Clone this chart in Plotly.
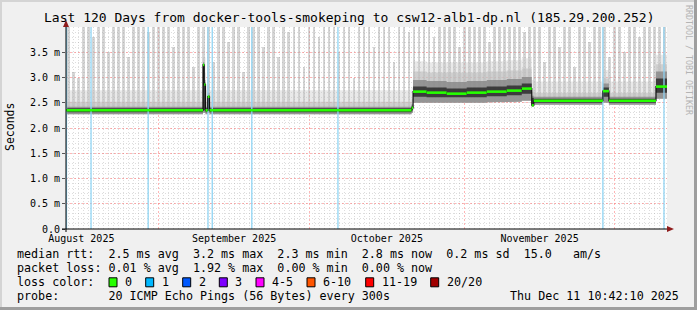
import plotly.graph_objects as go
from datetime import datetime, timedelta

# ---------------- data (values in milliseconds) ----------------
START = datetime(2025, 8, 13, 10, 42, 10)
END = datetime(2025, 12, 11, 10, 42, 10)
Y_MAX = 4.0

# intervals (day offsets from START) with median rtt and smoke percentiles
seg_start = [0, 27.35, 27.6, 27.85, 28.3, 28.65, 69.0, 69.3, 72, 76, 80, 84, 88, 91, 93.0, 93.4, 107.2, 108.4, 117.8]
seg_end = seg_start[1:] + [120]
median   = [2.35, 3.25, 2.86, 2.35, 2.62, 2.35, 2.40, 2.72, 2.70, 2.68, 2.70, 2.72, 2.74, 2.78, 2.45, 2.54, 2.73, 2.54, 2.82]
smoke_lo = [2.27, 2.30, 2.30, 2.27, 2.30, 2.27, 2.30, 2.50, 2.50, 2.49, 2.50, 2.51, 2.52, 2.54, 2.42, 2.46, 2.50, 2.46, 2.58]
core_lo  = [2.31, 2.35, 2.35, 2.31, 2.35, 2.31, 2.35, 2.62, 2.61, 2.60, 2.61, 2.63, 2.65, 2.68, 2.44, 2.50, 2.62, 2.50, 2.70]
core_hi  = [2.39, 3.25, 2.90, 2.39, 2.65, 2.39, 2.44, 2.82, 2.80, 2.78, 2.80, 2.82, 2.84, 2.88, 2.60, 2.58, 2.80, 2.58, 2.98]
dark_hi  = [2.42, 3.30, 2.95, 2.42, 2.70, 2.42, 2.47, 2.95, 2.93, 2.91, 2.93, 2.95, 2.97, 3.01, 2.64, 2.62, 2.88, 2.62, 3.12]
mid_hi   = [2.52, 3.40, 3.10, 2.52, 2.85, 2.52, 2.58, 3.12, 3.10, 3.09, 3.10, 3.12, 3.14, 3.18, 2.72, 2.70, 2.98, 2.70, 3.26]
light_hi = [2.75, 3.60, 3.40, 2.75, 3.00, 2.75, 2.80, 3.32, 3.30, 3.29, 3.30, 3.32, 3.34, 3.38, 2.95, 2.92, 3.15, 2.92, 3.45]

# per-day maximum ping (light smoke streaks); values above 4.0 are off the chart
streak_top = [
    4.3, 3.1, 3.0, 4.3, 4.3, 3.8, 4.3, 4.3, 3.5, 4.3,
    4.3, 4.3, 3.4, 4.3, 4.3, 4.3, 3.9, 4.3, 4.3, 4.3,
    4.3, 3.6, 4.3, 4.3, 4.3, 3.2, 4.3, 4.3, 4.3, 3.3,
    4.3, 4.3, 3.7, 4.3, 4.3, 3.1, 4.3, 4.3, 4.3, 3.6,
    4.3, 4.3, 3.4, 4.3, 3.9, 4.3, 4.3, 3.2, 4.3, 4.3,
    3.8, 4.3, 4.3, 4.3, 3.5, 4.3, 4.3, 3.0, 4.3, 4.3,
    4.3, 3.6, 4.3, 4.3, 4.3, 3.3, 4.3, 4.3, 3.9, 4.3,
    4.3, 4.3, 4.3, 3.8, 4.3, 4.3, 4.3, 4.3, 3.6, 4.3,
    4.3, 4.3, 4.3, 4.3, 3.7, 4.3, 4.3, 4.3, 4.3, 4.3,
    4.3, 3.9, 4.3, 4.3, 4.3, 3.3, 4.3, 4.3, 3.6, 4.3,
    4.3, 3.2, 4.3, 4.3, 3.7, 4.3, 4.3, 4.3, 3.4, 4.3,
    4.3, 3.5, 4.3, 4.3, 3.8, 4.3, 4.3, 4.3, 4.3, 4.3,
]

# moments with 1/20 packet loss (day offsets)
loss_days = [0.1, 5.0, 16.4, 28.35, 29.2, 37.1, 54.3, 107.2, 119.4]

y_tickvals = [0, 0.5, 1.0, 1.5, 2.0, 2.5, 3.0, 3.5]
y_ticktext = ["0.0", "0.5 m", "1.0 m", "1.5 m", "2.0 m", "2.5 m", "3.0 m", "3.5 m"]

title_text = "Last 120 Days from docker-tools-smokeping to csw12-alb1-dp.nl (185.29.200.252)"
legend_lines = [
    "median rtt:  2.5 ms avg  3.2 ms max  2.3 ms min  2.8 ms now  0.2 ms sd  15.0   am/s",
    "packet loss: 0.01 % avg  1.92 % max  0.00 % min  0.00 % now",
    "loss color:",
    "probe:       20 ICMP Echo Pings (56 Bytes) every 300s",
]
loss_labels = ["0", "1", "2", "3", "4-5", "6-10", "11-19", "20/20"]
loss_colors = ["#26ff00", "#00b8ff", "#0059ff", "#7e00ff", "#ff00ff", "#ff5500", "#ff0000", "#a10000"]
date_text = "Thu Dec 11 10:42:10 2025"

# ---------------- layout geometry ----------------
W, H = 697, 310
ML, MR, MT, MB = 66, 30, 27, 81
PW = W - ML - MR
PH = H - MT - MB
FONT = "DejaVu Sans Mono"


def PX(x):
    return (x - ML) / PW


def PY(y):
    return (MT + PH - y) / PH


def to_date(d):
    return (START + timedelta(days=d)).strftime("%Y-%m-%d %H:%M:%S")


def band(lo, hi):
    xs, ys = [], []
    for s, e, h in zip(seg_start, seg_end, hi):
        xs += [s, e]
        ys += [h, h]
    for s, e, l in reversed(list(zip(seg_start, seg_end, lo))):
        xs += [e, s]
        ys += [l, l]
    return [to_date(x) for x in xs], ys


def median_at(d):
    for s, e, m in zip(seg_start, seg_end, median):
        if s <= d < e:
            return m
    return median[-1]


fig = go.Figure()

# light outer smoke
bx, by = band(smoke_lo, light_hi)
fig.add_trace(go.Scatter(x=bx, y=by, fill="toself", mode="lines", line=dict(width=0),
                         fillcolor="rgba(200,200,200,0.4)", hoverinfo="skip"))

# streaks (max pings per day)
days = list(range(len(streak_top)))
bases = [median_at(d + 0.5) for d in days]
fig.add_trace(go.Bar(x=[to_date(d + 0.5) for d in days], base=bases,
                     y=[t - b for t, b in zip(streak_top, bases)],
                     width=0.55 * 86400000, marker=dict(color="rgba(165,165,165,0.45)", line=dict(width=0)),
                     hoverinfo="skip"))

bx, by = band(smoke_lo, mid_hi)
fig.add_trace(go.Scatter(x=bx, y=by, fill="toself", mode="lines", line=dict(width=0),
                         fillcolor="rgba(190,190,190,0.6)", hoverinfo="skip"))
bx, by = band(smoke_lo, dark_hi)
fig.add_trace(go.Scatter(x=bx, y=by, fill="toself", mode="lines", line=dict(width=0),
                         fillcolor="rgba(130,130,130,0.75)", hoverinfo="skip"))
bx, by = band(core_lo, core_hi)
fig.add_trace(go.Scatter(x=bx, y=by, fill="toself", mode="lines", line=dict(width=0),
                         fillcolor="rgba(50,50,50,0.9)", hoverinfo="skip"))

# loss background lines
lx, ly = [], []
for d in loss_days:
    lx += [to_date(d), to_date(d), None]
    ly += [0, Y_MAX, None]
fig.add_trace(go.Scatter(x=lx, y=ly, mode="lines", line=dict(color="#8fd4f3", width=1.3),
                         hoverinfo="skip"))

# median (dark step connector + green loss-coloured segments)
fig.add_trace(go.Scatter(x=[to_date(d) for d in seg_start + [seg_end[-1]]], y=median + [median[-1]],
                         mode="lines", line=dict(color="#111111", width=1.2, shape="hv"), hoverinfo="skip"))
gx, gy = [], []
for s, e, m in zip(seg_start, seg_end, median):
    gx += [to_date(s), to_date(e), None]
    gy += [m, m, None]
fig.add_trace(go.Scatter(x=gx, y=gy, mode="lines", line=dict(color=loss_colors[0], width=2.6),
                         hoverinfo="skip"))

grid_major = "rgba(255,110,110,0.5)"
grid_minor = "rgba(150,150,150,0.32)"

fig.update_layout(
    width=W, height=H,
    margin=dict(l=ML, r=MR, t=MT, b=MB, pad=0),
    paper_bgcolor="#f0f0f0", plot_bgcolor="#ffffff",
    showlegend=False, barmode="overlay", bargap=0,
    font=dict(family=FONT, color="#000000"),
    xaxis=dict(
        type="date", range=[to_date(0), to_date(120)],
        tick0="2025-08-01", dtick="M1", tickformat="%B %Y", ticklabelmode="period",
        showgrid=True, gridcolor=grid_major, griddash="2px,2px", gridwidth=1,
        minor=dict(dtick=86400000, showgrid=True, gridcolor=grid_minor, griddash="1px,2px", gridwidth=1),
        ticks="", showline=False, zeroline=False, ticklabelstandoff=2,
        tickfont=dict(family=FONT, size=10, color="#000000"),
    ),
    yaxis=dict(
        range=[0, Y_MAX], tickvals=y_tickvals, ticktext=y_ticktext,
        showgrid=True, gridcolor=grid_major, griddash="2px,2px", gridwidth=1,
        minor=dict(dtick=0.1, showgrid=True, gridcolor=grid_minor, griddash="1px,2px", gridwidth=1),
        ticks="outside", ticklen=3, tickcolor="#555555", showline=False, zeroline=False,
        tickfont=dict(family=FONT, size=10, color="#000000"),
    ),
)

shapes = []
# frame
shapes.append(dict(type="rect", xref="paper", yref="paper", x0=PX(0), x1=PX(W), y0=PY(2), y1=PY(0),
                   fillcolor="#d4d4d4", line=dict(width=0), layer="above"))
shapes.append(dict(type="rect", xref="paper", yref="paper", x0=PX(0), x1=PX(2), y0=PY(H), y1=PY(0),
                   fillcolor="#d4d4d4", line=dict(width=0), layer="above"))
shapes.append(dict(type="rect", xref="paper", yref="paper", x0=PX(0), x1=PX(W), y0=PY(H), y1=PY(H - 3),
                   fillcolor="#9e9e9e", line=dict(width=0), layer="above"))
shapes.append(dict(type="rect", xref="paper", yref="paper", x0=PX(W - 3), x1=PX(W), y0=PY(H), y1=PY(0),
                   fillcolor="#9e9e9e", line=dict(width=0), layer="above"))
# axes
shapes.append(dict(type="line", xref="paper", yref="paper", x0=PX(62), x1=PX(670), y0=0, y1=0,
                   line=dict(color="#000000", width=1), layer="above"))
shapes.append(dict(type="line", xref="paper", yref="paper", x0=0, x1=0, y0=PY(232), y1=PY(24),
                   line=dict(color="#000000", width=1), layer="above"))
# arrows
shapes.append(dict(type="path", xref="paper", yref="paper",
                   path=f"M {PX(667)} {PY(226)} L {PX(674)} {PY(229)} L {PX(667)} {PY(232)} Z",
                   fillcolor="#8f1c1c", line=dict(width=0), layer="above"))
shapes.append(dict(type="path", xref="paper", yref="paper",
                   path=f"M {PX(63)} {PY(27)} L {PX(66)} {PY(20)} L {PX(69)} {PY(27)} Z",
                   fillcolor="#8f1c1c", line=dict(width=0), layer="above"))

annotations = []
annotations.append(dict(text=title_text, xref="paper", yref="paper", x=PX(348.5), y=PY(18),
                        xanchor="center", yanchor="middle", showarrow=False,
                        font=dict(family=FONT, size=13, color="#000000")))
annotations.append(dict(text="Seconds", xref="paper", yref="paper", x=PX(10), y=PY(127),
                        xanchor="center", yanchor="middle", textangle=-90, showarrow=False,
                        font=dict(family=FONT, size=11.5, color="#000000")))
annotations.append(dict(text="RRDTOOL / TOBI OETIKER", xref="paper", yref="paper", x=PX(689), y=PY(60),
                        xanchor="center", yanchor="middle", textangle=90, showarrow=False,
                        font=dict(family=FONT, size=8.3, color="#b4b4b4")))

line_y = [254.3, 268.3, 282.3, 296.0]
for txt, yy in zip(legend_lines, line_y):
    annotations.append(dict(text=txt.replace(" ", "\u00a0"), xref="paper", yref="paper", x=PX(15), y=PY(yy),
                            xanchor="left", yanchor="middle", showarrow=False,
                            font=dict(family=FONT, size=11.7, color="#000000")))
annotations.append(dict(text=date_text.replace(" ", "\u00a0"), xref="paper", yref="paper", x=PX(681), y=PY(line_y[3]),
                        xanchor="right", yanchor="middle", showarrow=False,
                        font=dict(family=FONT, size=11.7, color="#000000")))

box_x = [109, 145.7, 182.7, 219.3, 256, 307, 365.7, 430.7]
for bxp, lab, col in zip(box_x, loss_labels, loss_colors):
    shapes.append(dict(type="rect", xref="paper", yref="paper", x0=PX(bxp), x1=PX(bxp + 8),
                       y0=PY(line_y[2] + 4.5), y1=PY(line_y[2] - 4.5),
                       fillcolor=col, line=dict(color="#000000", width=1), layer="above"))
    annotations.append(dict(text=lab, xref="paper", yref="paper", x=PX(bxp + 14), y=PY(line_y[2]),
                            xanchor="left", yanchor="middle", showarrow=False,
                            font=dict(family=FONT, size=11.7, color="#000000")))

fig.update_layout(shapes=shapes, annotations=annotations)
fig.write_html("out.html")
